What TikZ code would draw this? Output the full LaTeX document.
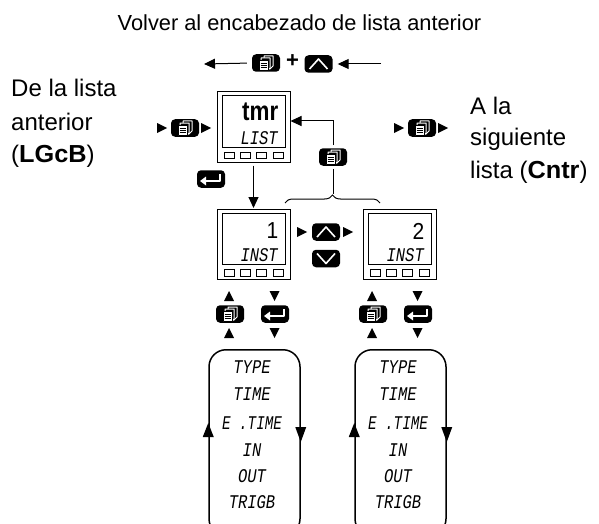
\documentclass[tikz,border=0pt]{standalone}
\usepackage{fontspec}
\usepackage{graphicx}
\setmainfont{Liberation Sans}
\newfontfamily\segf{Liberation Mono}
\usetikzlibrary{arrows.meta,calc,decorations.pathreplacing}
\newcommand{\lcd}[1]{{\segf\itshape\fontsize{15.5}{16}\selectfont\scalebox{1}[1.25]{#1}}}
\newcommand{\seg}[1]{{\bfseries\fontsize{22}{22}\selectfont\scalebox{1.15}[1.12]{#1}}}
\newcommand{\dseg}[1]{{\bfseries\fontsize{20}{20}\selectfont\scalebox{1.12}[1.35]{#1}}}
\newcommand{\bigseg}[1]{{\fontsize{21}{21}\selectfont\scalebox{1}[1.1]{#1}}}
\tikzset{
  txt/.style={font=\fontsize{24}{26}\selectfont,anchor=base west,inner sep=0pt},
  keybox/.style={fill=black,rounded corners=4pt,minimum width=28pt,minimum height=17.5pt,inner sep=0pt},
  glyph/.style={draw=white,line width=1pt,line join=round},
  disp/.style={draw=black,line width=1pt,minimum width=73pt,minimum height=70pt,inner sep=0pt},
  screen/.style={draw=black,line width=1pt,minimum width=63pt,minimum height=51pt,inner sep=0pt},
  btn/.style={draw=black,line width=.7pt,minimum width=10pt,minimum height=6.5pt,inner sep=0pt},
  listbox/.style={draw=black,line width=1.5pt,rounded corners=17pt,minimum width=91pt,minimum height=186pt,inner sep=0pt},
  lcdline/.style={inner sep=0pt},
  conn/.style={draw=black,line width=1pt},
  arr/.style={conn,-{Triangle[length=11pt,width=10pt]}},
  tri/.style={fill=black,draw=none}
}
% name, x, y
\newcommand{\pagekey}[3]{%
  \node[keybox] (#1) at (#2,#3) {};
  \begin{scope}[shift={(#1.center)}]
    \draw[glyph,fill=black] (-2,-7) -- (7,-7) -- (7,3) -- (4,6) -- (-2,6) -- cycle;
    \draw[glyph,fill=black] (-5,-5) -- (4,-5) -- (4,5) -- (2,7) -- (-5,7) -- cycle;
    \draw[glyph,fill=white,draw=black,line width=.5pt] (-7,-3) rectangle (2,7.5);
    \draw[black,line width=.6pt] (-5.5,0) -- (.5,0) (-5.5,2.2) -- (.5,2.2) (-5.5,4.4) -- (.5,4.4);
  \end{scope}}
\newcommand{\upkey}[3]{%
  \node[keybox] (#1) at (#2,#3) {};
  \draw[glyph,line width=1.6pt,shift={(#1.center)}] (-9,5) -- (0,-5) -- (9,5);}
\newcommand{\downkey}[3]{%
  \node[keybox] (#1) at (#2,#3) {};
  \draw[glyph,line width=1.6pt,shift={(#1.center)}] (-9,-5) -- (0,5) -- (9,-5);}
\newcommand{\enterkey}[3]{%
  \node[keybox] (#1) at (#2,#3) {};
  \draw[glyph,line width=1.5pt,shift={(#1.center)}] (9,-5) -- (9,2) -- (-8,2);
  \fill[white,shift={(#1.center)}] (-11,2) -- (-5,-2.5) -- (-5,6.5) -- cycle;}
% triangles: x, y (centre)
\newcommand{\triR}[2]{\fill[tri] (#1-5,#2-5) -- (#1+5,#2) -- (#1-5,#2+5) -- cycle;}
\newcommand{\triU}[2]{\fill[tri] (#1-5,#2+5) -- (#1,#2-5) -- (#1+5,#2+5) -- cycle;}
\newcommand{\triD}[2]{\fill[tri] (#1-5,#2-5) -- (#1,#2+5) -- (#1+5,#2-5) -- cycle;}
% name, x, y, top text, lower text, top offset, lower offset
\newcommand{\display}[7]{%
  \node[disp] (#1) at (#2,#3) {};
  \node[screen] (#1s) at (#2,#3-5.5) {};
  \foreach \bx in {-24.5,-8,8,24.5} {\node[btn] at ($(#1.south)+(\bx,-7)$) {};}
  \node[lcdline,anchor=east] at ($(#1s.east)+(-7,#6)$) {#4};
  \node[lcdline,anchor=east] at ($(#1s.east)+(-7.5,#7)$) {\lcd{#5}};}
\newcommand{\listitems}[2]{%
  \node[lcdline] at (#1,#2+18) {\lcd{TYPE}};
  \node[lcdline] at (#1,#2+45) {\lcd{TIME}};
  \node[lcdline] at (#1,#2+74) {\scalebox{.92}[1]{\lcd{E .TIME}}};
  \node[lcdline] at (#1,#2+101) {\lcd{IN}};
  \node[lcdline] at (#1,#2+127) {\lcd{OUT}};
  \node[lcdline] at (#1,#2+153) {\lcd{TRIGB}};}
\begin{document}
\begin{tikzpicture}[x=1pt,y=-1pt]
\useasboundingbox (0,0) rectangle (599,524);
\clip (0,0) rectangle (599,524);
\node[font=\fontsize{21.8}{24}\selectfont,anchor=base,inner sep=0pt] (title) at (299.5,31) {Volver al encabezado de lista anterior};
\node[txt] (l1) at (11,97) {De la lista};
\node[txt] (l2) at (11,130) {anterior};
\node[txt] (l3) at (11,162) {(\seg{LGcB})};
\node[txt] (r1) at (470,114) {A la};
\node[txt] (r2) at (470,146) {siguiente};
\node[txt] (r3) at (470,178) {lista (\seg{Cntr})};
% top
\pagekey{kt}{266}{63}
\upkey{ku}{318.5}{64}
\node[font=\fontsize{22}{24}\selectfont\bfseries,inner sep=0pt] (plus) at (292.5,61) {+};
\coordinate (tl) at (204,64);
\coordinate (tr) at (381,64);
\draw[arr,shorten <=5pt] (kt.west) -- (tl);
\draw[arr,shorten >=5pt] (tr) -- (ku.east);
% displays
\display{d1}{253.5}{127}{\dseg{tmr}}{LIST}{-9.5}{16.5}
\display{d2}{253.5}{244.5}{\bigseg{1}}{INST}{-8}{16}
\display{d3}{399.5}{244.5}{\bigseg{2}}{INST}{-8}{16}
% side keys
\pagekey{kl}{185}{128}\triR{162}{128}\triR{206}{128}
\pagekey{kr}{422}{128}\triR{399}{128}\triR{443}{128}
\enterkey{ke}{211}{179}
% feedback
\pagekey{km}{333}{157}
\draw[arr,shorten <=3pt] (km.north) |- ([yshift=6pt]d1.east);
\coordinate (bl) at (285,203);
\coordinate (br) at (380,203);
\draw[conn,decorate,decoration={brace,amplitude=8pt,raise=0pt}] (bl) -- (br);
\coordinate (bt) at (333,194);
\draw[conn,shorten <=3pt] (km.south) -- (bt);
\draw[arr,shorten <=3pt,shorten >=1pt] (d1.south) -- (d2.north);
% middle keys
\upkey{kmu}{326}{232}\triR{302}{232}\triR{348}{232}
\downkey{kmd}{326}{258.5}
% lower keys
\pagekey{kp1}{230}{314}\triU{229}{296}\triU{229}{333}
\enterkey{ke1}{275}{314}\triD{274.5}{296}\triD{274.5}{333}
\pagekey{kp2}{373}{314}\triU{372}{296}\triU{372}{333}
\enterkey{ke2}{418}{314}\triD{417.5}{296}\triD{417.5}{333}
% lists
\node[listbox,anchor=north] (b1) at (254.5,349) {};
\node[listbox,anchor=north] (b2) at (400.5,349) {};
\listitems{252}{349}
\listitems{398}{349}
\fill[tri] (b1.west|-0,423) -- ($(b1.west|-0,437)+(-5.5,0)$) -- ($(b1.west|-0,437)+(5.5,0)$) -- cycle;
\fill[tri] (b1.east|-0,442) -- ($(b1.east|-0,427)+(-5.5,0)$) -- ($(b1.east|-0,427)+(5.5,0)$) -- cycle;
\fill[tri] (b2.west|-0,423) -- ($(b2.west|-0,437)+(-5.5,0)$) -- ($(b2.west|-0,437)+(5.5,0)$) -- cycle;
\fill[tri] (b2.east|-0,442) -- ($(b2.east|-0,427)+(-5.5,0)$) -- ($(b2.east|-0,427)+(5.5,0)$) -- cycle;
\end{tikzpicture}
\end{document}
